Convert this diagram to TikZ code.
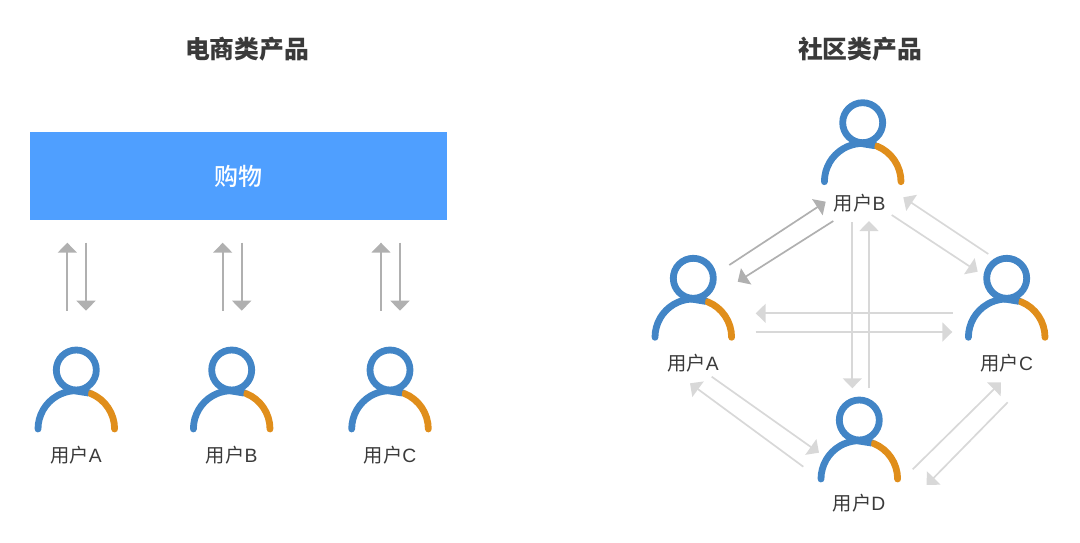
\documentclass[tikz,border=0pt]{standalone}
\usepackage{fontspec}
\usetikzlibrary{arrows.meta}
\newfontfamily\cjk{Noto Sans CJK SC}
\newfontfamily\cjkmed{Noto Sans CJK SC Medium}
\newfontfamily\lat{Liberation Sans}
\definecolor{iconblue}{HTML}{4285C6}
\definecolor{iconorange}{HTML}{E08E1B}
\definecolor{bannerblue}{HTML}{4F9FFF}
\definecolor{txt}{HTML}{3A3A3A}
\definecolor{darkarrow}{HTML}{B0B0B0}
\definecolor{lightarrow}{HTML}{D8D8D8}
\newcommand{\usr}[1]{{\cjk 用户}{\lat #1}}
\tikzset{
  x=1pt,y=-1pt,
  usericon/.pic={
    \draw[iconblue,line width=6.8pt] (0,0) circle[radius=20];
    \draw[iconblue,line width=6.8pt,line cap=round] (-38.3,59) arc[start angle=180,end angle=70,radius=38.3,y radius=-38.3];
    \draw[iconorange,line width=6.8pt,line cap=round] (38.3,59) arc[start angle=0,end angle=68,radius=38.3,y radius=-38.3];
    \draw[iconblue,line width=6.8pt] (-2,20.7) -- (12,23);
  },
  ulabel/.style={font=\fontsize{19.3}{21}\selectfont,text=txt,inner sep=0pt},
  title/.style={font=\fontsize{24.8}{28}\selectfont\bfseries\cjk,text=txt,inner sep=0pt},
  banner/.style={fill=bannerblue,draw=none,minimum width=417pt,minimum height=88pt,inner sep=0pt,text=white,font=\fontsize{24}{28}\selectfont\cjkmed},
  darr/.style={draw=darkarrow,line width=1.7pt,-{Triangle[length=10pt,width=19pt,fill=darkarrow]}},
  larr/.style={draw=lightarrow,line width=1.7pt,-{Triangle[length=10pt,width=19pt,fill=lightarrow]}},
}
\begin{document}
\begin{tikzpicture}
\useasboundingbox (0,0) rectangle (1080,542);
\node[title] (t1) at (247,49) {电商类产品};
\node[title] (t2) at (860,49) {社区类产品};
\node[banner] (shop) at (238.5,176) {\raisebox{-2pt}{购物}};

% left users
\pic at (76.3,370) {usericon};
\pic at (231.7,370) {usericon};
\pic at (390,370) {usericon};
\node[ulabel] (la) at (76,455) {\usr{A}};
\node[ulabel] (lb) at (231.7,455) {\usr{B}};
\node[ulabel] (lc) at (390,455) {\usr{C}};

% left arrows
\foreach \n/\u/\d in {1/67.3/86,2/222.7/241.7,3/381/400}{
  \coordinate (up\n s) at (\u,310.7);
  \coordinate (up\n e) at (\u,242.7);
  \coordinate (dn\n s) at (\d,242.7);
  \coordinate (dn\n e) at (\d,310.7);
  \draw[darr] (up\n s) -- (up\n e);
  \draw[darr] (dn\n s) -- (dn\n e);
}

% right users
\pic at (862.7,122.7) {usericon};
\pic at (693.3,278.3) {usericon};
\pic at (1006.7,278.3) {usericon};
\pic at (859.3,420) {usericon};
\node[ulabel] (rb) at (859.7,203) {\usr{B}};
\node[ulabel] (ra) at (693,362.7) {\usr{A}};
\node[ulabel] (rc) at (1006.7,362.7) {\usr{C}};
\node[ulabel] (rd) at (859,502.7) {\usr{D}};

% right arrow ends
\coordinate (abs) at (729.3,265);   \coordinate (abe) at (825.7,201.7);
\coordinate (bas) at (833.3,221);   \coordinate (bae) at (737.7,281.7);
\coordinate (bcs) at (891.7,215);   \coordinate (bce) at (977.7,271.7);
\coordinate (cbs) at (988.3,254);   \coordinate (cbe) at (903.3,197.3);
\coordinate (bds) at (852.3,222.3); \coordinate (bde) at (852.3,388.3);
\coordinate (dbs) at (869,388.3);   \coordinate (dbe) at (869,221);
\coordinate (cas) at (952.7,313.3); \coordinate (cae) at (755.7,313.3);
\coordinate (acs) at (755.7,332);   \coordinate (ace) at (952.3,332);
\coordinate (ads) at (711.7,376.7); \coordinate (ade) at (819,452.7);
\coordinate (das) at (803.3,466.7); \coordinate (dae) at (690,383.3);
\coordinate (dcs) at (912.7,469.3); \coordinate (dce) at (1001,382.3);
\coordinate (cds) at (1007.7,402.3);\coordinate (cde) at (926.7,485);

\draw[darr] (abs) -- (abe);
\draw[darr] (bas) -- (bae);
\draw[larr] (bcs) -- (bce);
\draw[larr] (cbs) -- (cbe);
\draw[larr] (bds) -- (bde);
\draw[larr] (dbs) -- (dbe);
\draw[larr] (cas) -- (cae);
\draw[larr] (acs) -- (ace);
\draw[larr] (ads) -- (ade);
\draw[larr] (das) -- (dae);
\draw[larr] (dcs) -- (dce);
\draw[larr] (cds) -- (cde);
\end{tikzpicture}
\end{document}
